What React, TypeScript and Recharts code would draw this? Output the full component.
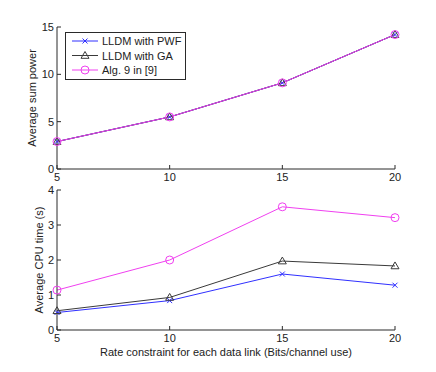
import React from 'react';
import { LineChart, Line, XAxis, YAxis, Label } from 'recharts';

const rates = [5, 10, 15, 20];
const powerPwf = [2.9, 5.5, 9.1, 14.2];
const powerGa = [2.9, 5.5, 9.1, 14.2];
const powerAlg9 = [2.9, 5.5, 9.1, 14.2];
const cpuPwf = [0.5, 0.84, 1.6, 1.28];
const cpuGa = [0.55, 0.93, 1.97, 1.83];
const cpuAlg9 = [1.14, 2.0, 3.52, 3.21];
const xTicks = [5, 10, 15, 20];
const powerTicks = [0, 5, 10, 15];
const cpuTicks = [0, 1, 2, 3, 4];

const seriesNames = ['LLDM with PWF', 'LLDM with GA', 'Alg. 9 in [9]'];

const topData = rates.map((r, i) => ({ rate: r, pwf: powerPwf[i], ga: powerGa[i], alg9: powerAlg9[i] }));
const bottomData = rates.map((r, i) => ({ rate: r, pwf: cpuPwf[i], ga: cpuGa[i], alg9: cpuAlg9[i] }));

const FONT = '"Liberation Sans", Arial, sans-serif';
const AXIS = '#2a2a2a';
const BLUE = '#3030ff';
const BLACK = '#3a3a3a';
const MAGENTA = '#f040f0';

const CrossDot = (props: any) => {
  const { cx, cy } = props;
  if (cx == null || cy == null) return null;
  const s = 2.5;
  return (
    <g stroke={BLUE} strokeWidth={1}>
      <line x1={cx - s} y1={cy - s} x2={cx + s} y2={cy + s} />
      <line x1={cx - s} y1={cy + s} x2={cx + s} y2={cy - s} />
    </g>
  );
};

const TriDot = (props: any) => {
  const { cx, cy } = props;
  if (cx == null || cy == null) return null;
  const s = 4;
  return (
    <polygon
      points={`${cx},${cy - s} ${cx - s},${cy + s * 0.7} ${cx + s},${cy + s * 0.7}`}
      fill="none"
      stroke={BLACK}
      strokeWidth={1}
    />
  );
};

const CircleDot = (props: any) => {
  const { cx, cy } = props;
  if (cx == null || cy == null) return null;
  return <circle cx={cx} cy={cy} r={4} fill="none" stroke={MAGENTA} strokeWidth={1} />;
};

const tickStyle = { fill: '#222', fontSize: 11, fontFamily: FONT };
const labelStyle = { fill: '#222', fontSize: 11, fontFamily: FONT };
const blank = () => '';

const renderAxes = (yTicks: number[], yDomain: [number, number], yLabel: string, labelDx: number, bottomHeight: number, xLabel?: string) => [
  <XAxis
    key="xb"
    xAxisId="b"
    dataKey="rate"
    type="number"
    domain={[5, 20]}
    ticks={xTicks}
    height={bottomHeight}
    stroke={AXIS}
    tickSize={-4}
    tickMargin={8}
    tick={tickStyle}
  >
    {xLabel ? <Label value={xLabel} position="insideBottom" offset={16} style={labelStyle} /> : null}
  </XAxis>,
  <XAxis
    key="xt"
    xAxisId="t"
    orientation="top"
    dataKey="rate"
    type="number"
    domain={[5, 20]}
    ticks={xTicks}
    height={0}
    stroke={AXIS}
    tickSize={-4}
    tickFormatter={blank}
  />,
  <YAxis
    key="yl"
    yAxisId="l"
    type="number"
    domain={yDomain}
    ticks={yTicks}
    width={57}
    stroke={AXIS}
    tickSize={-4}
    tickMargin={7}
    tick={tickStyle}
  >
    <Label value={yLabel} angle={-90} position="center" dx={labelDx} style={{ ...labelStyle, textAnchor: 'middle' }} />
  </YAxis>,
  <YAxis
    key="yr"
    yAxisId="r"
    orientation="right"
    type="number"
    domain={yDomain}
    ticks={yTicks}
    width={0}
    stroke={AXIS}
    tickSize={-4}
    tickFormatter={blank}
  />,
];

const renderLines = () => [
  <Line key="pwf" xAxisId="b" yAxisId="l" dataKey="pwf" name={seriesNames[0]} stroke={BLUE} strokeWidth={1} dot={<CrossDot />} isAnimationActive={false} />,
  <Line key="ga" xAxisId="b" yAxisId="l" dataKey="ga" name={seriesNames[1]} stroke={BLACK} strokeWidth={1} dot={<TriDot />} isAnimationActive={false} />,
  <Line key="alg9" xAxisId="b" yAxisId="l" dataKey="alg9" name={seriesNames[2]} stroke={MAGENTA} strokeWidth={1} dot={<CircleDot />} isAnimationActive={false} />,
];

const legendMarkers = [
  { color: BLUE, Dot: CrossDot },
  { color: BLACK, Dot: TriDot },
  { color: MAGENTA, Dot: CircleDot },
];

const LegendBox = () => (
  <svg style={{ position: 'absolute', left: 65, top: 32 }} width={121} height={48}>
    <rect x={0.5} y={0.5} width={120} height={47} fill="#fff" stroke={AXIS} strokeWidth={1} />
    {seriesNames.map((name, i) => {
      const y = 9 + i * 14.5;
      const { color, Dot } = legendMarkers[i];
      return (
        <g key={name}>
          <line x1={7} y1={y} x2={33} y2={y} stroke={color} strokeWidth={1} />
          <Dot cx={20} cy={y} />
          <text x={37} y={y + 4} fontSize={11} fontFamily={FONT} fill="#222">
            {name}
          </text>
        </g>
      );
    })}
  </svg>
);

export default function App() {
  return (
    <div style={{ position: 'absolute', left: 0, top: 0, width: 436, height: 372, background: '#fff' }}>
      <div style={{ position: 'absolute', left: 0, top: 0 }}>
        <LineChart width={436} height={190} data={topData} margin={{ top: 27, right: 41, bottom: 0, left: 0 }}>
          {renderAxes(powerTicks, [0, 15], 'Average sum power', 4, 21)}
          {renderLines()}
        </LineChart>
      </div>
      <LegendBox />
      <div style={{ position: 'absolute', left: 0, top: 180 }}>
        <LineChart width={436} height={192} data={bottomData} margin={{ top: 10, right: 41, bottom: 0, left: 0 }}>
          {renderAxes(cpuTicks, [0, 4], 'Average CPU time (s)', 10.5, 42, 'Rate constraint for each data link (Bits/channel use)')}
          {renderLines()}
        </LineChart>
      </div>
    </div>
  );
}
